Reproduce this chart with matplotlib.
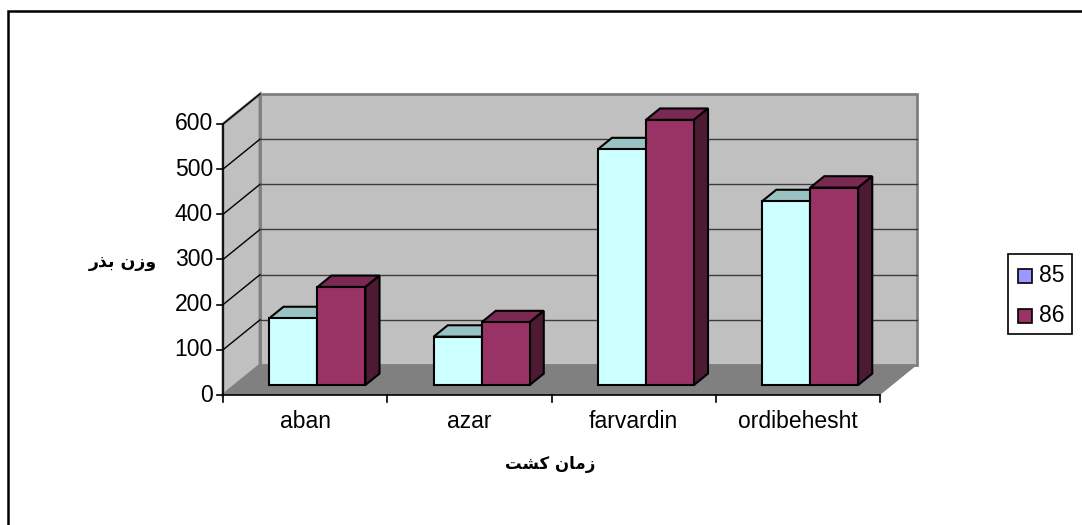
import numpy as np
import matplotlib
matplotlib.use('Agg')
import matplotlib.pyplot as plt
from matplotlib.patches import Polygon, Rectangle

# data
categories = ['aban', 'azar', 'farvardin', 'ordibehesht']
series_names = ['85', '86']
vals_85 = [148, 107, 522, 407]
vals_86 = [217, 139, 587, 437]
y_ticks = [0, 100, 200, 300, 400, 500, 600]

# arabic titles, pre-shaped (presentation forms, visual order) since mpl does no shaping
ylab = '\uFEAD\uFEAC\uFE91 \uFEE5\uFEAF\uFEED'          # وزن بذر
xlab = '\uFE96\uFEB8\uFB90 \uFEE5\uFE8E\uFEE3\uFEAF'     # زمان کشت

W, H = 1082, 525
# pixel mapping of the front plane: x=0 at px 223, one category = 164.25 px; v=0 at py 395, 0.4517 px per unit
px0, pxc = 223, 164.25
py0, pyv = 395, 0.4517

fig = plt.figure(figsize=(W / 100, H / 100), dpi=100)
ax = fig.add_axes([0, 0, 1, 1])
ax.set_xlim(-px0 / pxc, (W - px0) / pxc)
ax.set_ylim((py0 - H) / pyv, py0 / pyv)
ax.axis('off')

# depth of the 3d box (oblique)
Ddx = 37 / pxc
Ddy = 30 / pyv
ymax = 600
n = len(categories)

wall = '#C0C0C0'
floor = '#808080'
edge = '#808080'

# walls and floor
ax.add_patch(Polygon([(Ddx, Ddy), (n + Ddx, Ddy), (n + Ddx, ymax + Ddy), (Ddx, ymax + Ddy)],
                     closed=True, fc=wall, ec=edge, lw=2, zorder=1))
ax.add_patch(Polygon([(0, 0), (Ddx, Ddy), (Ddx, ymax + Ddy), (0, ymax)],
                     closed=True, fc=wall, ec=edge, lw=2, zorder=1))
ax.add_patch(Polygon([(0, 0), (n, 0), (n + Ddx, Ddy), (Ddx, Ddy)],
                     closed=True, fc=floor, ec='none', lw=0, zorder=2))

# gridlines
for v in y_ticks[1:]:
    ax.plot([0, Ddx], [v, v + Ddy], color='black', lw=1, zorder=3)
    if v < ymax:
        ax.plot([Ddx, n + Ddx], [v + Ddy, v + Ddy], color='#3c3c3c', lw=1, zorder=3)

# bars
f0 = 1 / 3      # front face depth fraction
fb = 0.38       # bar depth fraction
bw = 48 / pxc
colors = [('#CCFFFF', '#99C2C2', '#88AAAA'), ('#993366', '#7A2952', '#4D1A33')]

def box(x, v, c):
    fx, fy = f0 * Ddx, f0 * Ddy
    dx, dy = fb * Ddx, fb * Ddy
    x0, x1 = x + fx, x + bw + fx
    b, t = fy, v + fy
    top = [(x0, t), (x1, t), (x1 + dx, t + dy), (x0 + dx, t + dy)]
    side = [(x1, b), (x1 + dx, b + dy), (x1 + dx, t + dy), (x1, t)]
    front = [(x0, b), (x1, b), (x1, t), (x0, t)]
    for pts, col in [(top, c[1]), (side, c[2]), (front, c[0])]:
        ax.add_patch(Polygon(pts, closed=True, fc=col, ec='black', lw=1.5, zorder=5, joinstyle='miter'))

for i in range(n):
    center = i + 0.5
    box(center - bw, vals_85[i], colors[0])
    box(center, vals_86[i], colors[1])

# axes
ax.plot([0, 0], [0, ymax], color='black', lw=1.2, zorder=6)
ax.plot([0, n], [0, 0], color='black', lw=1.2, zorder=6)
tk_x = 6 / pxc
tk_y = 7 / pyv
for v in y_ticks:
    ax.plot([-tk_x, 0], [v, v], color='black', lw=1.2, zorder=6)
    ax.text(-10 / pxc, v, str(v), ha='right', va='center', fontsize=16.5,
            family='Liberation Sans', zorder=7)
for i in range(n + 1):
    ax.plot([i, i], [0, -tk_y], color='black', lw=1.2, zorder=6)
for i, c in enumerate(categories):
    ax.text(i + 0.5, -26 / pyv, c, ha='center', va='center', fontsize=16.5,
            family='Liberation Sans', zorder=7)

# axis titles
ax.text((123 - px0) / pxc, (py0 - 262) / pyv, ylab, ha='center', va='center',
        fontsize=12.5, fontweight='bold', family='DejaVu Sans')
ax.text((550 - px0) / pxc, (py0 - 464) / pyv, xlab, ha='center', va='center',
        fontsize=12, fontweight='bold', family='DejaVu Sans')

# legend (figure pixels)
def fp(x, y):
    return x / W, 1 - y / H

lx, ly = fp(1008, 334)
fig.add_artist(Rectangle((lx, ly), 64 / W, 80 / H, transform=fig.transFigure,
                         fc='white', ec='black', lw=1.2))
for y, col, name in [(276, '#9999FF', series_names[0]), (316, '#993366', series_names[1])]:
    sx, sy = fp(1018, y + 7)
    fig.add_artist(Rectangle((sx, sy), 14 / W, 14 / H, transform=fig.transFigure,
                             fc=col, ec='black', lw=1.2))
    tx, ty = fp(1039, y)
    fig.text(tx, ty, name, ha='left', va='center', fontsize=16.5, family='Liberation Sans')

# outer frame (right and bottom edges fall outside the picture)
bx, by = fp(8, 540)
fig.add_artist(Rectangle((bx, by), 1.1, (540 - 11) / H, transform=fig.transFigure,
                         fc='none', ec='black', lw=1.8))

fig.savefig('out.png', dpi=100)
